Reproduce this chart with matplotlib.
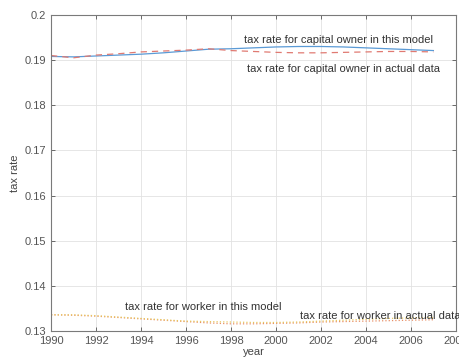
import matplotlib
matplotlib.use('Agg')
import matplotlib.pyplot as plt
import numpy as np

plt.rcParams['font.family'] = ['Liberation Sans', 'DejaVu Sans']

years = np.arange(1990, 2008)
cap_model = [0.1908, 0.1907, 0.1909, 0.1911, 0.1913, 0.1916, 0.1920, 0.1924, 0.1925,
             0.1927, 0.1929, 0.1930, 0.1930, 0.1929, 0.1927, 0.1925, 0.1923, 0.1921]
cap_actual = [0.1910, 0.1905, 0.1911, 0.1914, 0.1918, 0.1920, 0.1922, 0.1925, 0.1921,
              0.1919, 0.1917, 0.1916, 0.1916, 0.1917, 0.1918, 0.1919, 0.1919, 0.1918]
wrk_model = [0.1336, 0.1335, 0.1333, 0.1330, 0.1327, 0.1324, 0.1321, 0.1318, 0.1316,
             0.1316, 0.1317, 0.1318, 0.1320, 0.1321, 0.1322, 0.1323, 0.1324, 0.1325]
wrk_actual = [0.1336, 0.1336, 0.1334, 0.1331, 0.1328, 0.1325, 0.1322, 0.1321, 0.1320,
              0.1319, 0.1319, 0.1320, 0.1322, 0.1324, 0.1326, 0.1328, 0.1329, 0.1330]

fig = plt.figure(figsize=(4.6, 3.63), dpi=100)
ax = fig.add_axes([0.111, 0.088, 0.880, 0.871])

ax.plot(years, cap_model, color='#5a9ad6', lw=0.9, ls='-')
ax.plot(years, cap_actual, color='#e07a72', lw=0.9, ls=(0, (5, 4)))
ax.plot(years, wrk_model, color='#e89068', lw=0.9, ls=':')
ax.plot(years, wrk_actual, color='#e8c860', lw=0.9, ls=':')

ax.set_xlim(1990, 2008)
ax.set_ylim(0.13, 0.2)
ax.set_xticks(np.arange(1990, 2009, 2))
ax.set_yticks(np.arange(0.13, 0.2001, 0.01))
ax.set_yticklabels(['0.13', '0.14', '0.15', '0.16', '0.17', '0.18', '0.19', '0.2'])
ax.grid(True, color='#e2e2e2', lw=0.6)
ax.tick_params(direction='in', length=3, width=0.6, colors='#555555',
               labelsize=8, top=True, right=True, labeltop=False, labelright=False)
for s in ax.spines.values():
    s.set_color('#7a7a7a')
    s.set_linewidth(0.8)
ax.set_xlabel('year', fontsize=8, color='#444444', labelpad=1)
ax.set_ylabel('tax rate', fontsize=8, color='#444444', labelpad=3)

tc = '#333333'
ax.text(1998.6, 0.1945, 'tax rate for capital owner in this model', fontsize=8, color=tc, va='center')
ax.text(1998.7, 0.1881, 'tax rate for capital owner in actual data', fontsize=8, color=tc, va='center')
ax.text(1993.3, 0.1354, 'tax rate for worker in this model', fontsize=8, color=tc, va='center')
ax.text(2001.05, 0.1334, 'tax rate for worker in actual data', fontsize=8, color=tc, va='center',
        clip_on=False)

fig.savefig('out.png', dpi=100)
